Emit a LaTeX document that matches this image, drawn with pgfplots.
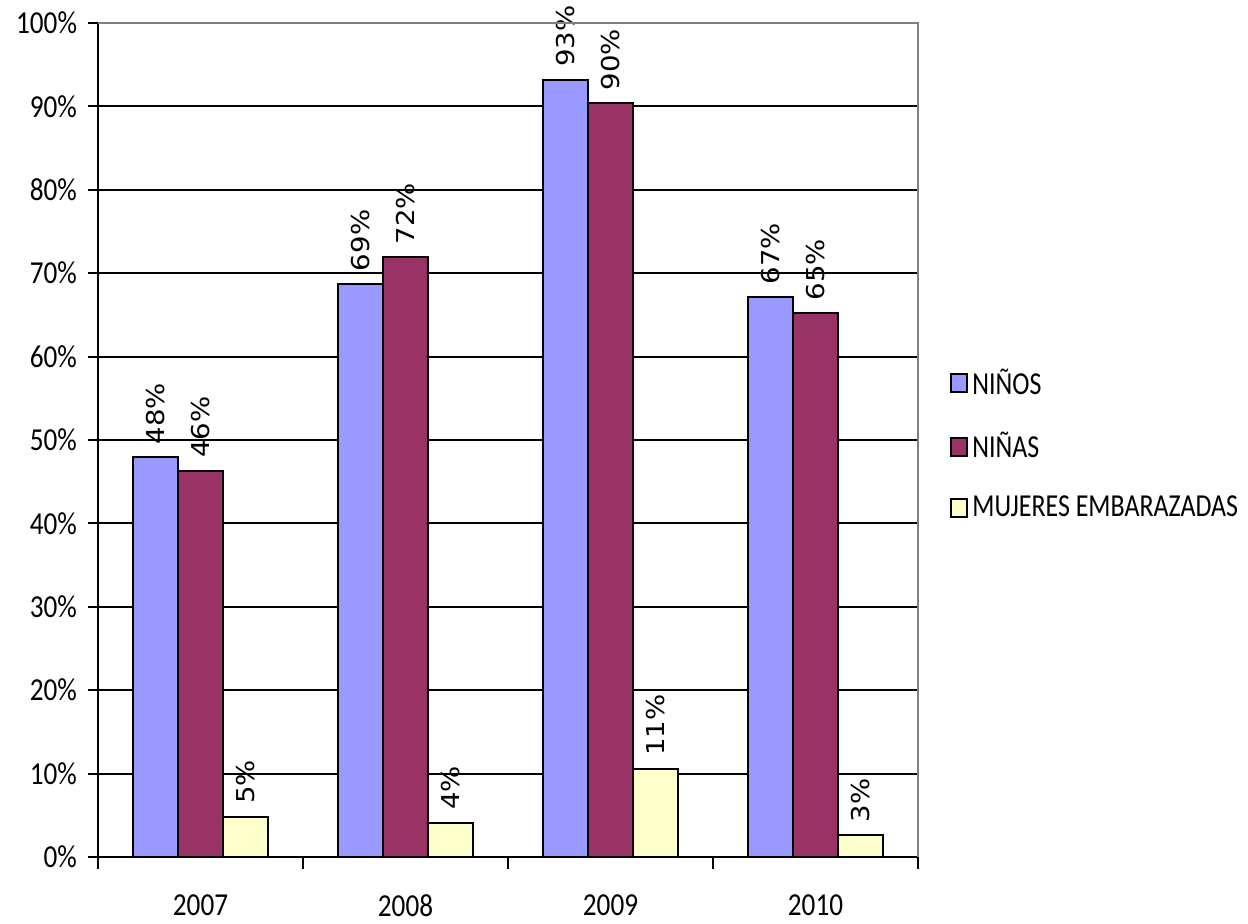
\documentclass[border=0pt]{standalone}
\usepackage{pgfplots}
\pgfplotsset{compat=1.18}
\usepackage{fontspec}
\setmainfont{Carlito}[FakeStretch=0.85]
\newfontfamily\legfont{Carlito}[FakeStretch=0.81]
\newfontfamily\labfont{DejaVu Sans}[FakeStretch=1.12]
\definecolor{cblue}{HTML}{9999FF}
\definecolor{cpurple}{HTML}{993366}
\definecolor{cyellow}{HTML}{FFFFCC}
\begin{document}
\begin{tikzpicture}
\path[use as bounding box] (0,0) rectangle (624pt,462pt);
\begin{axis}[
  at={(49pt,33.5pt)}, anchor=south west,
  scale only axis, width=410pt, height=417pt,
  ybar=0pt, bar width=22.5pt,
  xmin=-0.5, xmax=3.5, ymin=0, ymax=100,
  xtick={0,1,2,3}, xticklabels={2007,2008,2009,2010},
  minor xtick={-0.5,0.5,1.5,2.5,3.5},
  major x tick style={draw=none},
  minor x tick style={black, line width=1pt},
  minor tick length=6pt,
  ytick={0,10,...,100},
  yticklabel={\pgfmathprintnumber{\tick}\%},
  /pgf/number format/assume math mode=true,
  y tick style={black, line width=1pt},
  major tick length=5pt,
  tick align=outside,
  tick pos=left,
  ymajorgrids, grid style={black, line width=1pt},
  axis line style={line width=1pt},
  axis x line*=bottom, axis y line*=left,
  ticklabel style={font=\fontsize{16}{19}\selectfont},
  xticklabel style={yshift=-10.5pt},
  yticklabel style={xshift=-2pt},
  nodes near coords={\pgfmathprintnumber[fixed,precision=0]{\pgfplotspointmeta}\%},
  every node near coord/.append style={font=\labfont\fontsize{12.3}{14}\selectfont, rotate=90, anchor=west, inner sep=0pt, xshift=6pt, black},
  legend style={at={(1.039,0.495)}, anchor=west, draw=none, fill=none, inner sep=0pt,
    font=\legfont\fontsize{16}{19}\selectfont, row sep=13.5pt, legend cell align=left},
  legend image code/.code={\draw[#1, line width=1pt] (0pt,-4.5pt) rectangle (8pt,4.5pt);},
  clip=false,
]
\addplot[draw=black, line width=1pt, fill=cblue] coordinates {(0,47.9) (1,68.7) (2,93.2) (3,67.1)};
\addplot[draw=black, line width=1pt, fill=cpurple] coordinates {(0,46.3) (1,71.9) (2,90.4) (3,65.2)};
\addplot[draw=black, line width=1pt, fill=cyellow] coordinates {(0,4.8) (1,4.1) (2,10.6) (3,2.6)};
\legend{NIÑOS,NIÑAS,MUJERES EMBARAZADAS}
\end{axis}
\draw[gray, line width=1pt] (49pt,450.5pt) -- (459pt,450.5pt) -- (459pt,33.5pt);
\end{tikzpicture}
\end{document}
